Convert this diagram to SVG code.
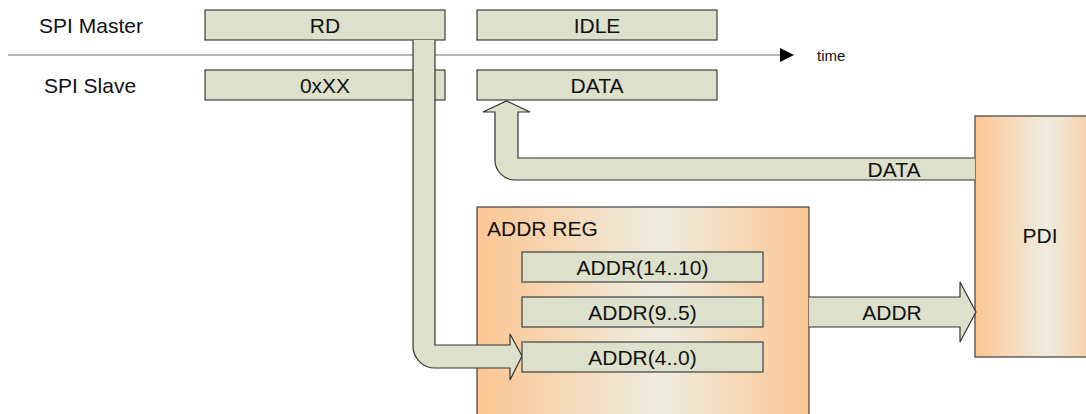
<svg xmlns="http://www.w3.org/2000/svg" width="1086" height="414" viewBox="0 0 1086 414">
  <style>
    text { font-family: "Liberation Sans", Arial, sans-serif; font-size: 21px; fill: #111; }
    .c { text-anchor: middle; }
    .box { fill: #dde0cb; stroke: #404040; stroke-width: 1.2; }
    .block { fill: url(#warm); stroke: #404040; stroke-width: 1.2; }
    .arrow { fill: #dde0cb; stroke: #333; stroke-width: 1.2; stroke-linejoin: miter; }
    .small { font-size: 15px; }
  </style>
  <defs>
    <linearGradient id="warm" x1="0" y1="0" x2="1" y2="0">
      <stop offset="0" stop-color="#fcc692"/>
      <stop offset="0.55" stop-color="#eeede0"/>
      <stop offset="1" stop-color="#fcc692"/>
    </linearGradient>
  </defs>

  <!-- time axis -->
  <g id="timeline">
    <line x1="8" y1="55" x2="782" y2="55" stroke="#6e6e6e" stroke-width="1.2"/>
    <polygon points="780,48 794,55 780,62" fill="#000"/>
    <text class="small" x="817" y="61">time</text>
  </g>

  <!-- row labels -->
  <g id="label-master"><text class="c" x="91" y="32.5">SPI Master</text></g>
  <g id="label-slave"><text class="c" x="90" y="92.5">SPI Slave</text></g>

  <!-- large blocks -->
  <g id="addr-reg">
    <rect class="block" x="477" y="207" width="332" height="220"/>
    <text x="487" y="236">ADDR REG</text>
  </g>
  <g id="pdi">
    <rect class="block" x="975" y="116" width="130" height="241"/>
    <text class="c" x="1040" y="243">PDI</text>
  </g>

  <!-- bus slots -->
  <g id="master-rd">
    <rect class="box" x="205" y="10" width="240" height="30"/>
    <text class="c" x="325" y="32.5">RD</text>
  </g>
  <g id="master-idle">
    <rect class="box" x="477" y="10" width="240" height="30"/>
    <text class="c" x="597" y="32.5">IDLE</text>
  </g>
  <g id="slave-xx">
    <rect class="box" x="205" y="70" width="240" height="30"/>
    <text class="c" x="325" y="92.5">0xXX</text>
  </g>
  <g id="slave-data">
    <rect class="box" x="477" y="70" width="240" height="30"/>
    <text class="c" x="597" y="92.5">DATA</text>
  </g>

  <!-- connectors -->
  <g id="connectors">
    <!-- RD command into the low address byte -->
    <path class="arrow" d="M413,40 L413,346 A22,22 0 0 0 435,368 L510,368 L510,380 L522,356 L510,334 L510,345 L435,345 L435,40"/>
    <!-- read data from PDI back to the slave -->
    <path class="arrow" d="M975,158 L518,158 L518,112 L530,112 L506.5,101 L483,112 L495,112 L495,160 A20,20 0 0 0 515,180 L975,180"/>
    <text class="c" x="894" y="176.5">DATA</text>
    <!-- address to PDI -->
    <path class="arrow" d="M809,297 L960,297 L960,282 L976,312 L960,342 L960,327 L809,327"/>
    <text class="c" x="892" y="319.5">ADDR</text>
  </g>

  <!-- address register slots -->
  <g id="addr-14-10">
    <rect class="box" x="522" y="252" width="241" height="30"/>
    <text class="c" x="642.5" y="274.5">ADDR(14..10)</text>
  </g>
  <g id="addr-9-5">
    <rect class="box" x="522" y="297" width="241" height="30"/>
    <text class="c" x="642.5" y="319.5">ADDR(9..5)</text>
  </g>
  <g id="addr-4-0">
    <rect class="box" x="522" y="342" width="241" height="30"/>
    <text class="c" x="642.5" y="364.5">ADDR(4..0)</text>
  </g>
</svg>
